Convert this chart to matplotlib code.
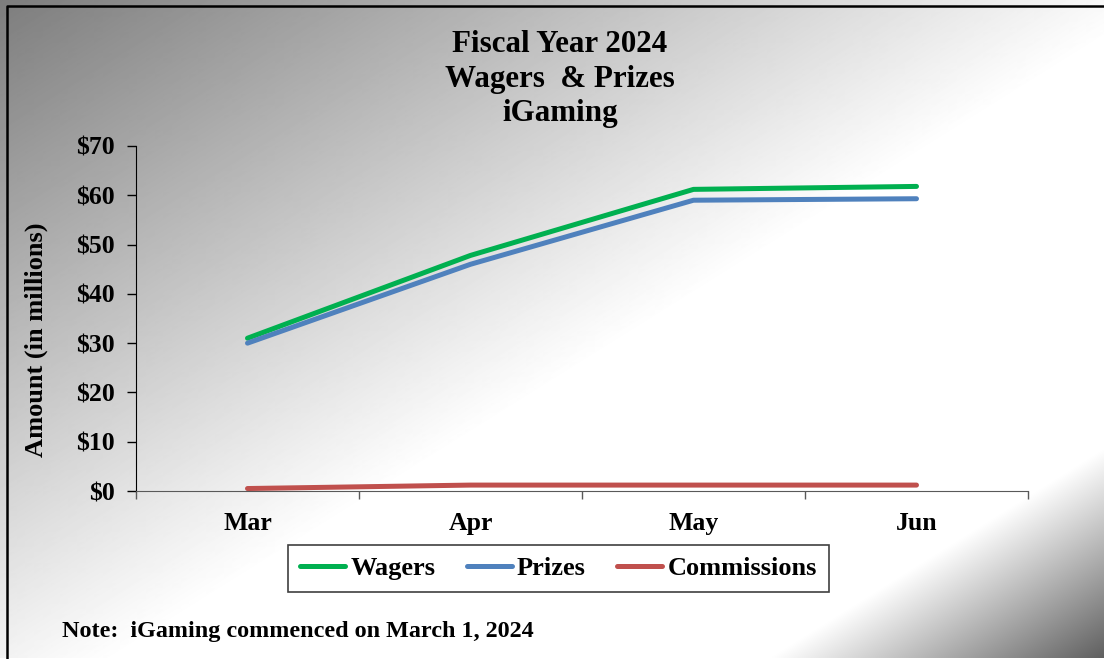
"""Fiscal Year 2024 iGaming wagers & prizes line chart."""

import matplotlib
import matplotlib.pyplot as plt
import numpy as np

matplotlib.use("Agg")

months = ["Mar", "Apr", "May", "Jun"]
wagers = [31.0, 47.8, 61.2, 61.8]
prizes = [30.0, 46.0, 59.0, 59.3]
commissions = [0.5, 1.2, 1.2, 1.2]
y_ticks = [0, 10, 20, 30, 40, 50, 60, 70]

W, H = 1104, 659
SERIF = "Liberation Serif"

fig = plt.figure(figsize=(W / 100, H / 100), dpi=100)

# diagonal gradient background (gray -> white -> dark corner)
bg = fig.add_axes([0, 0, 1, 1], zorder=-10)
xx, yy = np.meshgrid(np.arange(W), np.arange(H))
s = 107 * xx + 171 * yy
shade = np.where(
    s < 125000,
    0.49 + 0.51 * s / 125000,
    np.where(s < 195000, 1.0, 1.0 - 0.63 * (s - 195000) / (231000 - 195000)),
)
bg.imshow(shade, cmap="gray", vmin=0, vmax=1, aspect="auto", interpolation="bilinear")
# border only on left and top (the rest is cropped off)
bg.plot([7, 7, W], [H, 6, 6], color="black", linewidth=1.8)
bg.set_xlim(0, W)
bg.set_ylim(H, 0)
bg.axis("off")

ax = fig.add_axes([136 / W, 1 - 491 / H, (1028 - 136) / W, (491 - 146) / H])
ax.patch.set_alpha(0)

x = np.arange(len(months))
ax.plot(x, wagers, color="#00B050", linewidth=3.6, solid_capstyle="round", label="Wagers")
ax.plot(x, prizes, color="#4F81BD", linewidth=3.6, solid_capstyle="round", label="Prizes")
ax.plot(x, commissions, color="#C0504D", linewidth=3.6, solid_capstyle="round", label="Commissions")

ax.set_xlim(-0.5, len(months) - 0.5)
ax.set_ylim(0, 70)
ax.set_yticks(y_ticks)
ax.set_yticklabels([f"${v}" for v in y_ticks])
ax.set_xticks(np.arange(len(months) + 1) - 0.5)
ax.set_xticklabels([])
ax.set_xticks(x, minor=True)
ax.set_xticklabels(months, minor=True)

for side in ("top", "right"):
    ax.spines[side].set_visible(False)
ax.spines["left"].set_color("black")
ax.spines["bottom"].set_color("#595959")
ax.tick_params(axis="y", direction="out", length=6.5, width=1, pad=9, color="black")
ax.tick_params(axis="x", which="major", direction="out", length=6, width=1, color="#595959")
ax.tick_params(axis="x", which="minor", length=0, pad=15)
for lab in ax.get_yticklabels() + ax.get_xticklabels(minor=True):
    lab.set_fontfamily(SERIF)
    lab.set_fontweight("bold")
    lab.set_fontsize(18.5)

fig.text(36 / W, 1 - 340 / H, "Amount (in millions)", rotation=90, ha="center", va="center",
         fontfamily=SERIF, fontweight="bold", fontsize=19)

fig.text(560 / W, 1 - 79 / H, "Fiscal Year 2024\nWagers  & Prizes\niGaming", ha="center",
         va="center", fontfamily=SERIF, fontweight="bold", fontsize=22.3, linespacing=1.26)

leg = fig.legend(loc="center", bbox_to_anchor=(558.5 / W, 1 - 568.5 / H), ncol=3,
                 frameon=True, fancybox=False, handlelength=1.7, handletextpad=0.2,
                 columnspacing=1.2, borderpad=0.45,
                 prop={"family": SERIF, "weight": "bold", "size": 19})
leg.get_frame().set_edgecolor("#404040")
leg.get_frame().set_facecolor("white")
leg.get_frame().set_alpha(1)
leg.get_frame().set_linewidth(1.2)

fig.text(62 / W, 1 - 632 / H, "Note:  iGaming commenced on March 1, 2024", ha="left",
         va="center", fontfamily=SERIF, fontweight="bold", fontsize=17.4)

fig.savefig("out.png", dpi=100)
